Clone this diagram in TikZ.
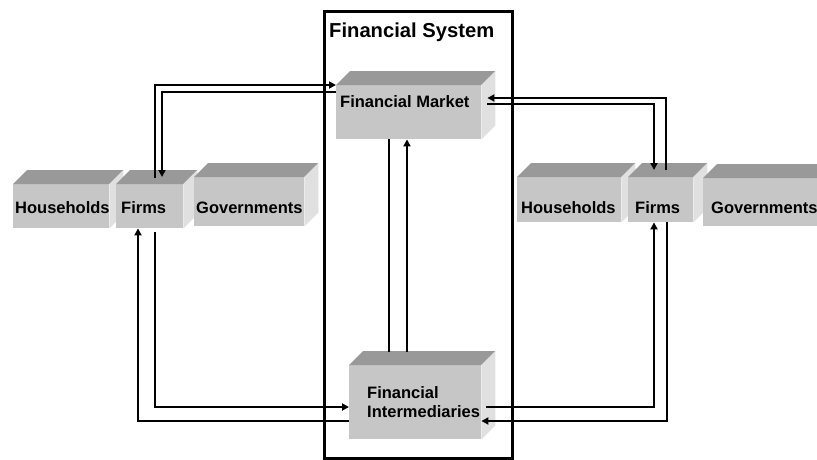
\documentclass[tikz,border=0pt]{standalone}
\usepackage{fontspec}
\setmainfont{Liberation Sans}
\usetikzlibrary{arrows.meta,calc}
\definecolor{frontc}{HTML}{C6C6C6}
\definecolor{topc}{HTML}{999999}
\definecolor{sidec}{HTML}{E0E0E0}
\newcommand\threedfaces[1]{%
  \fill[topc] (#1.north west) -- ++(14,-14) -- ($(#1.north east)+(14,-14)$) -- (#1.north east) -- cycle;
  \fill[sidec] (#1.north east) -- ++(14,-14) -- ($(#1.south east)+(14,-14)$) -- (#1.south east) -- cycle;
}
\begin{document}
\begin{tikzpicture}[x=1pt,y=-1pt,
  cube/.style={fill=frontc, draw=none, inner sep=0pt, anchor=north west},
  lbl/.style={inner sep=0pt, font=\bfseries\fontsize{16.5}{19}\selectfont, anchor=base west},
  conn/.style={line width=2pt},
  arr/.style={conn, -{Triangle[length=7pt,width=7pt]}},
]
\useasboundingbox (0,0) rectangle (817,459);
% Financial system frame
\node[draw, line width=3pt, minimum width=188pt, minimum height=447pt, anchor=north west, inner sep=0pt] (fs) at (323,10) {};
\node[lbl, font=\bfseries\fontsize{20.2}{24}\selectfont] (fst) at (329,37) {Financial System};

% left group
\node[cube, minimum width=96pt, minimum height=44pt] (hhL) at (13,184) {}; \threedfaces{hhL}
\node[lbl] (hhLt) at (15,213) {Households};
\node[cube, minimum width=67pt, minimum height=44pt] (fiL) at (116,184) {}; \threedfaces{fiL}
\node[lbl] (fiLt) at (121,213) {Firms};
\node[cube, minimum width=110pt, minimum height=49pt] (goL) at (194,177) {}; \threedfaces{goL}
\node[lbl] (goLt) at (196,213) {Governments};

% right group
\node[cube, minimum width=104pt, minimum height=45pt] (hhR) at (517,177) {}; \threedfaces{hhR}
\node[lbl] (hhRt) at (521,213) {Households};
\node[cube, minimum width=65pt, minimum height=45pt] (fiR) at (628,177) {}; \threedfaces{fiR}
\node[lbl] (fiRt) at (635,213) {Firms};
\node[cube, minimum width=120pt, minimum height=48pt] (goR) at (703,178) {}; \threedfaces{goR}
\node[lbl] (goRt) at (711,213) {Governments};

% financial market
\node[cube, minimum width=145pt, minimum height=54pt] (fm) at (336,85) {}; \threedfaces{fm}
\node[lbl] (fmt) at (340,107) {Financial Market};

% financial intermediaries
\node[cube, minimum width=132pt, minimum height=74pt] (fi) at (349,365) {}; \threedfaces{fi}
\node[inner sep=0pt, font=\bfseries\fontsize{16.5}{19}\selectfont, anchor=west, align=left] (fit) at (367,402) {Financial\\Intermediaries};

% connectors left top
\draw[arr] ($(fiL.north -| 155,0)+(0,-6)$) |- (fm.north west);
\draw[arr] (fm.west |- 0,92) -| ($(fiL.north -| 162,0)+(0,-7)$);
% connectors right top
\draw[arr] ($(fiR.north -| 666,0)+(0,-7)$) |- ($(fm.east |- 0,98)+(6,0)$);
\draw[arr] ($(fm.east |- 0,104)+(6,0)$) -| ($(fiR.north -| 654,0)+(0,-7)$);
% middle
\draw[conn] (fm.south -| 389,0) -- ($(fi.north -| 389,0)+(0,-13)$);
\draw[arr] ($(fi.north -| 407,0)+(0,-13)$) -- (fm.south -| 407,0);
% connectors left bottom
\draw[arr] (fi.west |- 0,421) -| (fiL.south -| 138,0);
\draw[arr] ($(fiL.south -| 155,0)+(0,4)$) |- (fi.west |- 0,407);
% connectors right bottom
\draw[arr] ($(fi.east |- 0,407)+(5,0)$) -| (fiR.south -| 654,0);
\draw[arr] (fiR.south -| 667,0) |- (fi.east |- 0,421);
\end{tikzpicture}
\end{document}
